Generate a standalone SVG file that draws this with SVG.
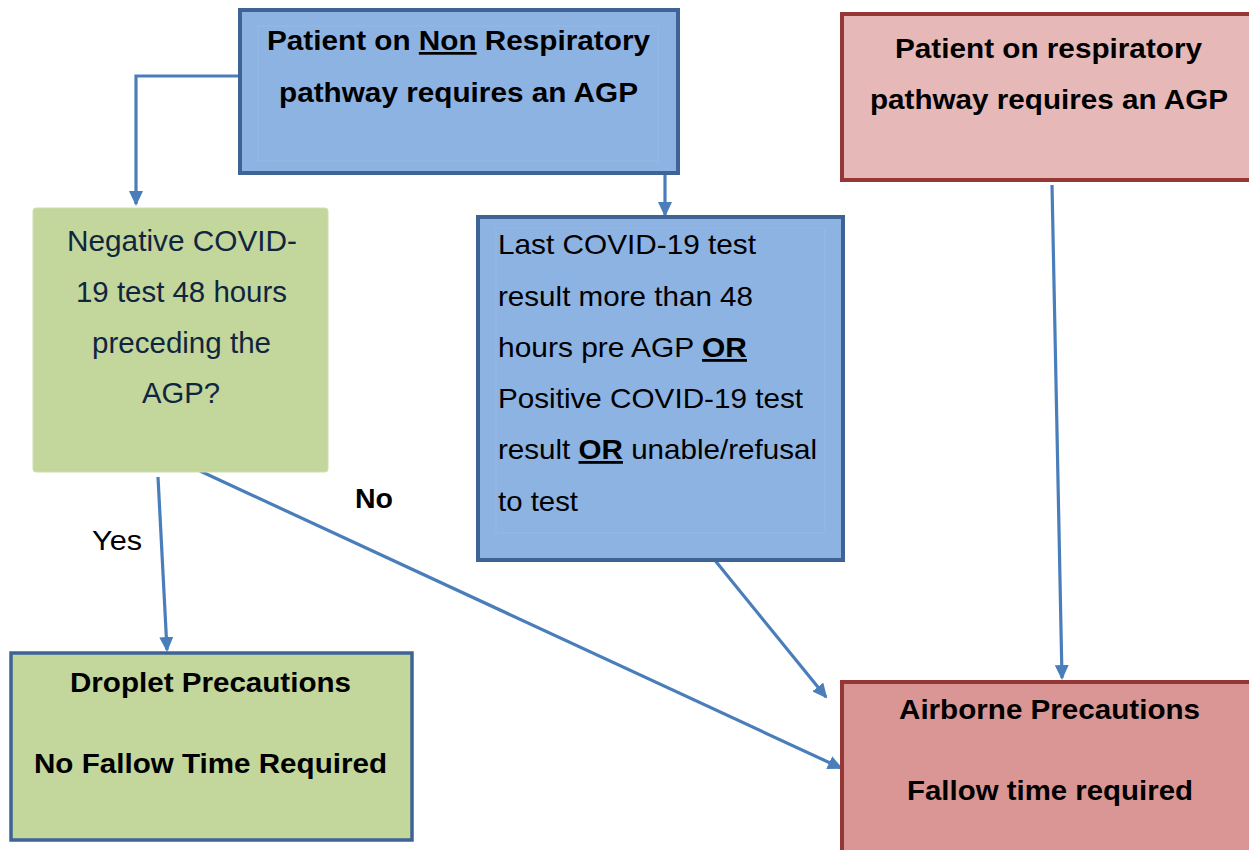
<svg xmlns="http://www.w3.org/2000/svg" width="1249" height="850" viewBox="0 0 1249 850">
<style>
.blue{fill:#8DB3E2;stroke:#3E6496;stroke-width:4}
.inner{fill:none;stroke:#97BAE6;stroke-width:1}
.red1{fill:#E6B9B8;stroke:#953735;stroke-width:4}
.red2{fill:#D99694;stroke:#953735;stroke-width:4}
.green{fill:#C3D69B;stroke:#D0DFB0;stroke-width:1}
.greenb{fill:#C3D69B;stroke:#3E6496;stroke-width:3.5}
.tb{font-family:"Liberation Sans",Arial,sans-serif;font-weight:bold;font-size:27px;fill:#000}
.tr{font-family:"Liberation Sans",Arial,sans-serif;font-size:28px;fill:#000}
.tg{font-family:"Liberation Sans",Arial,sans-serif;font-size:29px;fill:#10253F}
.conn{stroke:#4A7EBB;stroke-width:3.2;fill:none;marker-end:url(#ah)}
</style>
<defs>
<marker id="ah" markerWidth="15" markerHeight="14" refX="13" refY="7" orient="auto" markerUnits="userSpaceOnUse">
<path d="M0,0 L15,7 L0,14 Z" fill="#4A7EBB"/>
</marker>
</defs>
<rect width="1249" height="850" fill="#fff"/>

<g id="connectors">
<path class="conn" d="M240,76 H136 V204"/>
<path class="conn" d="M665,175 V215"/>
<path class="conn" d="M1052,185 L1062,678"/>
<path class="conn" d="M158,477 L167,650"/>
<path class="conn" d="M200,471 L841,768"/>
<path class="conn" d="M709,553 L826,697"/>
<text class="tr" x="92" y="550" textLength="50" lengthAdjust="spacingAndGlyphs">Yes</text>
<text class="tb" x="355" y="508" font-size="26" textLength="38" lengthAdjust="spacingAndGlyphs">No</text>
</g>

<g id="node-nonresp">
<rect class="blue" x="240" y="10" width="438" height="163"/>
<rect class="inner" x="258" y="26" width="400" height="135"/>
<text class="tb" x="267" y="50" textLength="383" lengthAdjust="spacingAndGlyphs">Patient on <tspan text-decoration="underline">Non</tspan> Respiratory</text>
<text class="tb" x="279" y="102" textLength="359" lengthAdjust="spacingAndGlyphs">pathway requires an AGP</text>
</g>

<g id="node-resp">
<rect class="red1" x="842" y="14" width="420" height="166"/>
<text class="tb" x="895" y="58" textLength="307" lengthAdjust="spacingAndGlyphs">Patient on respiratory</text>
<text class="tb" x="870" y="109" textLength="358" lengthAdjust="spacingAndGlyphs">pathway requires an AGP</text>
</g>

<g id="node-negative">
<rect class="green" x="33" y="208" width="295" height="264" rx="3"/>
<text class="tg" x="67" y="251" textLength="230" lengthAdjust="spacingAndGlyphs">Negative COVID-</text>
<text class="tg" x="76" y="302" textLength="211" lengthAdjust="spacingAndGlyphs">19 test 48 hours</text>
<text class="tg" x="92" y="353" textLength="179" lengthAdjust="spacingAndGlyphs">preceding the</text>
<text class="tg" x="142" y="403" textLength="78" lengthAdjust="spacingAndGlyphs">AGP?</text>
</g>

<g id="node-last">
<rect class="blue" x="478" y="217" width="365" height="343"/>
<rect class="inner" x="496" y="228" width="329" height="305"/>
<text class="tr" x="498" y="254" textLength="258" lengthAdjust="spacingAndGlyphs">Last COVID-19 test</text>
<text class="tr" x="498" y="306" textLength="255" lengthAdjust="spacingAndGlyphs">result more than 48</text>
<text class="tr" x="498" y="357" textLength="249" lengthAdjust="spacingAndGlyphs">hours pre AGP <tspan font-weight="bold" text-decoration="underline">OR</tspan></text>
<text class="tr" x="498" y="408" textLength="305" lengthAdjust="spacingAndGlyphs">Positive COVID-19 test</text>
<text class="tr" x="498" y="459" textLength="319" lengthAdjust="spacingAndGlyphs">result <tspan font-weight="bold" text-decoration="underline">OR</tspan> unable/refusal</text>
<text class="tr" x="498" y="511" textLength="80" lengthAdjust="spacingAndGlyphs">to test</text>
</g>

<g id="node-droplet">
<rect class="greenb" x="11" y="653" width="401" height="187"/>
<text class="tb" x="70" y="692" textLength="281" lengthAdjust="spacingAndGlyphs">Droplet Precautions</text>
<text class="tb" x="34" y="773" textLength="353" lengthAdjust="spacingAndGlyphs">No Fallow Time Required</text>
</g>

<g id="node-airborne">
<rect class="red2" x="842" y="682" width="420" height="180"/>
<text class="tb" x="899" y="719" textLength="301" lengthAdjust="spacingAndGlyphs">Airborne Precautions</text>
<text class="tb" x="907" y="800" textLength="286" lengthAdjust="spacingAndGlyphs">Fallow time required</text>
</g>
</svg>
